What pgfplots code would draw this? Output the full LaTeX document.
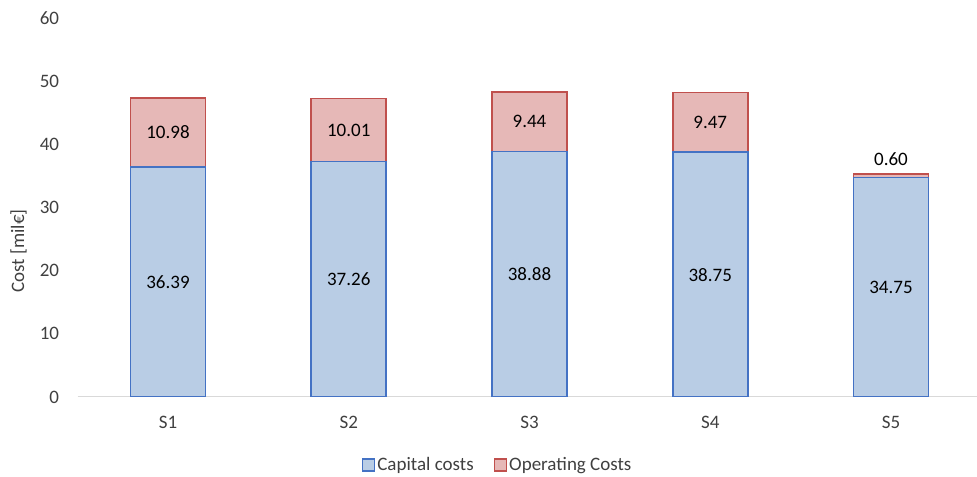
\documentclass[border=0pt]{standalone}
\usepackage{pgfplots}
\pgfplotsset{compat=1.18}
\usepackage{fontspec}
\setmainfont{Carlito}

\definecolor{capfill}{RGB}{185,205,229}
\definecolor{capedge}{RGB}{68,114,196}
\definecolor{opfill}{RGB}{230,184,183}
\definecolor{opedge}{RGB}{192,80,77}
\definecolor{axgray}{RGB}{217,217,217}
\definecolor{txtgray}{RGB}{64,64,64}

\pgfplotstableread{
x capital operating
0 36.39 10.98
1 37.26 10.01
2 38.88 9.44
3 38.75 9.47
4 34.75 0.60
}\costs

\begin{document}
\fontsize{19}{23}\selectfont
\begin{tikzpicture}
\begin{axis}[
    name=ax,
    scale only axis,
    width=899.4pt, height=379pt,
    xmin=-0.5, xmax=4.476,
    ymin=0, ymax=60,
    ytick={0,10,...,60},
    xtick=data,
    xticklabels={S1,S2,S3,S4,S5},
    ybar stacked,
    bar width=75pt,
    axis lines*=left,
    x axis line style={axgray, line width=1pt},
    y axis line style={draw=none},
    tick style={draw=none},
    /pgf/number format/assume math mode=true,
    tick label style={font=\fontsize{19}{23}\selectfont, text=txtgray},
    yticklabel style={xshift=-12pt},
    xticklabel style={yshift=-13pt},
    ylabel={Cost [mil€]},
    % the label is already turned by 90 degrees, so yshift moves it to the left
    ylabel style={at={(axis description cs:0,0.385)}, anchor=center,
        yshift=59pt, font=\fontsize{19}{23}\selectfont, text=txtgray},
    legend style={at={(0.467,0)}, anchor=center, yshift=-68pt, draw=none,
        legend columns=2, font=\fontsize{19}{23}\selectfont, text=txtgray,
        /tikz/every even column/.append style={column sep=18pt}},
    legend image code/.code={\draw[#1, line width=1.5pt] (0pt,-6pt) rectangle (12pt,6pt);},
    nodes near coords={\pgfmathprintnumber[fixed,fixed zerofill,precision=2]{\pgfplotspointmeta}},
    % stacked labels sit in the middle of their segment; lift the thin ones above the bar
    every node near coord/.append style={anchor=center, text=black,
        font=\fontsize{19}{23}\selectfont,
        /utils/exec={\pgfkeys{/pgf/fpu=true,/pgf/fpu/output format=fixed}%
            \pgfmathsetmacro\lblshift{ifthenelse(\pgfplotspointmeta<2,16.5,0)}%
            \pgfkeys{/pgf/fpu=false}},
        yshift=\lblshift pt},
]
\addplot[fill=capfill, draw=capedge, line width=1.6pt] table[x=x, y=capital] {\costs};
\addlegendentry{Capital costs}
\addplot[fill=opfill, draw=opedge, line width=1.6pt] table[x=x, y=operating] {\costs};
\addlegendentry{Operating Costs}
\end{axis}
\pgfresetboundingbox
\path[use as bounding box] ([shift={(-77.6pt,-80pt)}]ax.south west) rectangle ([shift={(0pt,18pt)}]ax.north east);
\end{tikzpicture}
\end{document}
